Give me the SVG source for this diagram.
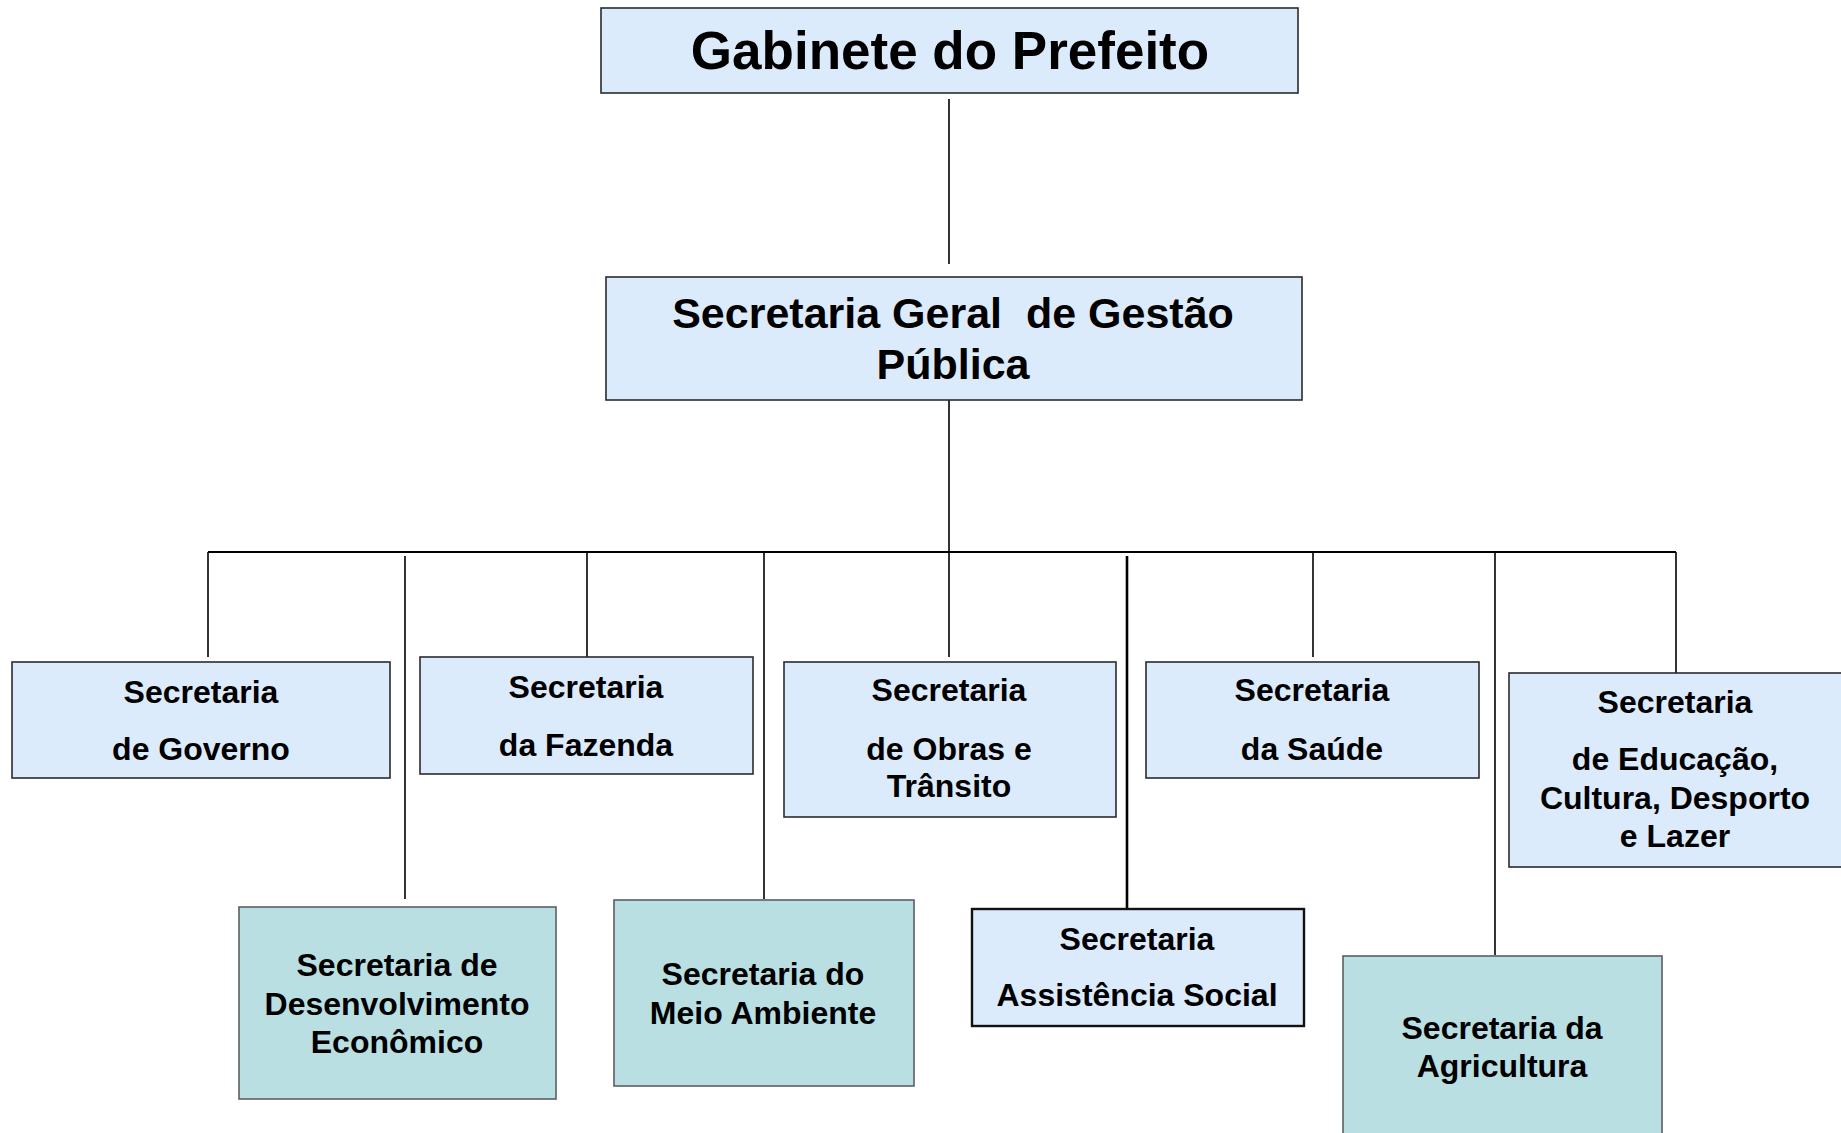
<svg xmlns="http://www.w3.org/2000/svg" width="1841" height="1133" viewBox="0 0 1841 1133">
<style>
.blue{fill:#dcebfc;stroke:#2b2b2b;stroke-width:1.6}
.teal{fill:#b9dfe2;stroke:#5a5f63;stroke-width:1.6}
.t{font-family:"Liberation Sans",Arial,sans-serif;font-weight:bold;fill:#000;text-anchor:middle}
.s{font-size:32px}
.c{stroke:#000;stroke-width:1.6;fill:none}
</style>
<rect width="1841" height="1133" fill="#fff"/>
<g id="connectors">
<line class="c" x1="949" y1="99" x2="949" y2="264"/>
<line class="c" x1="949" y1="400" x2="949" y2="657"/>
<line class="c" x1="208" y1="552" x2="1676" y2="552" style="stroke-width:2"/>
<line class="c" x1="208" y1="552" x2="208" y2="657"/>
<line class="c" x1="405" y1="556" x2="405" y2="899"/>
<line class="c" x1="587" y1="552" x2="587" y2="657"/>
<line class="c" x1="764" y1="552" x2="764" y2="899"/>
<line class="c" x1="1127" y1="556" x2="1127" y2="908" style="stroke-width:2.6"/>
<line class="c" x1="1313" y1="552" x2="1313" y2="657"/>
<line class="c" x1="1495" y1="552" x2="1495" y2="955"/>
<line class="c" x1="1676" y1="552" x2="1676" y2="673"/>
</g>
<g id="gabinete">
<rect class="blue" x="601" y="8" width="697" height="85"/>
<text class="t" x="950" y="69" font-size="53">Gabinete do Prefeito</text>
</g>
<g id="geral">
<rect class="blue" x="606" y="277" width="696" height="123"/>
<text class="t" x="953" y="328" font-size="43" xml:space="preserve">Secretaria Geral  de Gestão</text>
<text class="t" x="953" y="379" font-size="43">Pública</text>
</g>
<g id="governo">
<rect class="blue" x="12" y="662" width="378" height="116"/>
<text class="t s" x="201" y="703">Secretaria</text>
<text class="t s" x="201" y="760">de Governo</text>
</g>
<g id="fazenda">
<rect class="blue" x="420" y="657" width="333" height="117"/>
<text class="t s" x="586" y="698">Secretaria</text>
<text class="t s" x="586" y="756">da Fazenda</text>
</g>
<g id="obras">
<rect class="blue" x="784" y="662" width="332" height="155"/>
<text class="t s" x="949" y="701">Secretaria</text>
<text class="t s" x="949" y="760">de Obras e</text>
<text class="t s" x="949" y="797">Trânsito</text>
</g>
<g id="saude">
<rect class="blue" x="1146" y="662" width="333" height="116"/>
<text class="t s" x="1312" y="701">Secretaria</text>
<text class="t s" x="1312" y="760">da Saúde</text>
</g>
<g id="educacao">
<rect class="blue" x="1509" y="673" width="340" height="194"/>
<text class="t s" x="1675" y="713">Secretaria</text>
<text class="t s" x="1675" y="770">de Educação,</text>
<text class="t s" x="1675" y="809">Cultura, Desporto</text>
<text class="t s" x="1675" y="847">e Lazer</text>
</g>
<g id="desenvolvimento">
<rect class="teal" x="239" y="907" width="317" height="192"/>
<text class="t s" x="397" y="976">Secretaria de</text>
<text class="t s" x="397" y="1015">Desenvolvimento</text>
<text class="t s" x="397" y="1053">Econômico</text>
</g>
<g id="meioambiente">
<rect class="teal" x="614" y="900" width="300" height="186"/>
<text class="t s" x="763" y="985">Secretaria do</text>
<text class="t s" x="763" y="1024">Meio Ambiente</text>
</g>
<g id="assistencia">
<rect class="blue" x="972" y="909" width="332" height="117" style="stroke:#111;stroke-width:2.4"/>
<text class="t s" x="1137" y="950">Secretaria</text>
<text class="t s" x="1137" y="1006">Assistência Social</text>
</g>
<g id="agricultura">
<rect class="teal" x="1343" y="956" width="319" height="190"/>
<text class="t s" x="1502" y="1039">Secretaria da</text>
<text class="t s" x="1502" y="1077">Agricultura</text>
</g>
</svg>
